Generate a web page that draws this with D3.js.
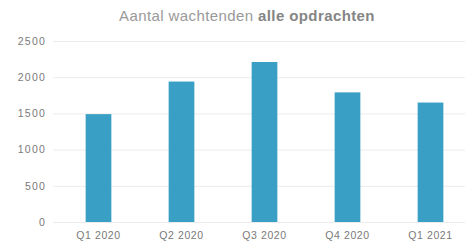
<!DOCTYPE html>
<html><head><meta charset="utf-8">
<script src="https://cdn.jsdelivr.net/npm/d3@7"></script>
<style>body{margin:0;background:#fff;}svg{display:block;}</style>
</head><body>
<svg id="c" width="466" height="251"></svg>
<script>
const categories = ["Q1 2020","Q2 2020","Q3 2020","Q4 2020","Q1 2021"];
const values = [1490, 1940, 2210, 1790, 1650];
const yTicks = [0, 500, 1000, 1500, 2000, 2500];

const svg = d3.select("#c");
const W = 466, H = 251;
const m = {left: 57, right: -6, top: 41, bottom: 29};
const x = d3.scaleBand().domain(categories).range([m.left, W - m.right]).paddingInner(0.69).paddingOuter(0.345);
const y = d3.scaleLinear().domain([0, 2500]).range([H - m.bottom, m.top]);

const font = "Arial, 'Liberation Sans', sans-serif";

// gridlines
svg.append("g").selectAll("line").data(yTicks).join("line")
  .attr("x1", 53).attr("x2", 465)
  .attr("y1", d => y(d) + 0.5).attr("y2", d => y(d) + 0.5)
  .attr("stroke", "#ececec").attr("stroke-width", 1);

// y labels
const yAxis = svg.append("g").attr("transform", `translate(46,0)`)
  .call(d3.axisLeft(y).tickValues(yTicks).tickFormat(d3.format("d")).tickSize(0).tickPadding(0));
yAxis.select(".domain").remove();
yAxis.selectAll("text").attr("font-family", font).attr("font-size", 10.5)
  .attr("letter-spacing", "1.2px").attr("fill", "#7a7a7a");

// bars
svg.append("g").selectAll("rect").data(values).join("rect")
  .attr("x", (d, i) => x(categories[i]))
  .attr("width", x.bandwidth())
  .attr("y", d => y(d))
  .attr("height", d => y(0) - y(d))
  .attr("fill", "#3a9fc5");

// x labels
const xAxis = svg.append("g").attr("transform", `translate(0,${H - m.bottom})`)
  .call(d3.axisBottom(x).tickSize(0).tickPadding(10));
xAxis.select(".domain").remove();
xAxis.selectAll("text").attr("font-family", font).attr("font-size", 10.5)
  .attr("letter-spacing", "0.6px").attr("fill", "#7a7a7a");

// title
const t = svg.append("text").attr("x", 247).attr("y", 21).attr("text-anchor", "middle")
  .attr("font-family", font).attr("font-size", 15).attr("letter-spacing", "0.4px").attr("fill", "#999");
t.append("tspan").text("Aantal wachtenden ");
t.append("tspan").attr("font-weight", "bold").attr("fill", "#858585").text("alle opdrachten");
</script>
</body></html>
